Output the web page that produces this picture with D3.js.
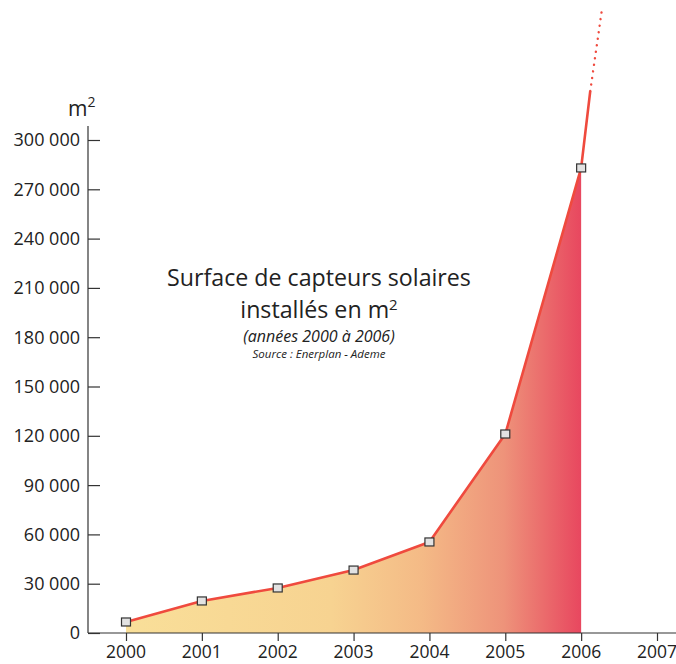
<!DOCTYPE html>
<html lang="fr">
<head>
  <meta charset="UTF-8">
  <title>Surface de capteurs solaires</title>
  <script src="https://d3js.org/d3.v7.min.js"></script>
  <style>
    body { margin: 0; background: #fff; }
    text { font-family: "Open Sans", "Noto Sans", sans-serif; fill: #222; }
    .axis line, .axis path { stroke: #333; stroke-width: 1.2px; }
  </style>
</head>
<body>
  <div id="chart"></div>
  <script>
    // values
    const years = [2000, 2001, 2002, 2003, 2004, 2005, 2006];
    const surface = [6700, 19500, 27400, 38300, 55400, 121100, 283000];
    const yearTicks = [2000, 2001, 2002, 2003, 2004, 2005, 2006, 2007];
    const valueTicks = [0, 30000, 60000, 90000, 120000, 150000, 180000, 210000, 240000, 270000, 300000];
    // projection beyond 2006 (solid part, then dotted part)
    const trendSolid = [[2006, 283000], [2006.12, 329800]];
    const trendDotted = [[2006.12, 329800], [2006.27, 378000]];

    const width = 676, height = 664;
    const svg = d3.select("#chart").append("svg")
      .attr("width", width).attr("height", height);

    const x = d3.scaleLinear().domain([2000, 2007]).range([126, 657]);
    const y = d3.scaleLinear().domain([0, 300000]).range([633, 140]);
    const fmt = d => d3.format(",")(d).replace(/,/g, " ");

    const grad = svg.append("defs").append("linearGradient")
      .attr("id", "fillGrad")
      .attr("gradientUnits", "userSpaceOnUse")
      .attr("x1", x(2000)).attr("x2", x(2006)).attr("y1", 0).attr("y2", 0);
    [[0, "#f9df99"], [0.45, "#f7d391"], [0.65, "#f4ba86"], [0.83, "#ee937a"], [1, "#e8475f"]]
      .forEach(s => grad.append("stop").attr("offset", s[0]).attr("stop-color", s[1]));

    const pts = years.map((yr, i) => [yr, surface[i]]);

    svg.append("path")
      .datum(pts)
      .attr("fill", "url(#fillGrad)")
      .attr("d", d3.area().x(d => x(d[0])).y0(y(0)).y1(d => y(d[1])));

    // y axis
    const yAxis = svg.append("g").attr("class", "axis")
      .attr("transform", "translate(88,0)")
      .call(d3.axisRight(y).tickValues(valueTicks).tickSize(12).tickFormat(""));
    yAxis.select(".domain").attr("d", `M0,${y(0)}V${y(300000) - 14}`);
    svg.append("g").selectAll("text").data(valueTicks).enter().append("text")
      .attr("x", 80).attr("y", d => y(d)).attr("dy", "0.36em")
      .attr("text-anchor", "end").attr("font-size", 18)
      .text(fmt);

    // x axis
    const xAxis = svg.append("g").attr("class", "axis")
      .attr("transform", `translate(0,${y(0)})`)
      .call(d3.axisBottom(x).tickValues(yearTicks).tickSize(8).tickFormat(""));
    xAxis.select(".domain").attr("d", `M88,0H676`);
    svg.append("g").selectAll("text").data(yearTicks).enter().append("text")
      .attr("x", d => x(d)).attr("y", 658)
      .attr("text-anchor", "middle").attr("font-size", 17.5)
      .text(d => d);

    svg.append("text").attr("x", 68).attr("y", 116).attr("font-size", 21)
      .text("m").append("tspan").attr("dy", -9).attr("font-size", 14).text("2");

    const line = d3.line().x(d => x(d[0])).y(d => y(d[1]));
    svg.append("path").datum(pts.concat(trendSolid.slice(1)))
      .attr("fill", "none").attr("stroke", "#ef4a3e").attr("stroke-width", 2.6)
      .attr("stroke-linejoin", "round").attr("d", line);
    svg.append("path").datum(trendDotted)
      .attr("fill", "none").attr("stroke", "#ef4a3e").attr("stroke-width", 2.4)
      .attr("stroke-linecap", "round").attr("stroke-dasharray", "0.1 6.5")
      .attr("d", line);

    svg.append("g").selectAll("rect").data(pts).enter().append("rect")
      .attr("x", d => x(d[0]) - 4.5).attr("y", d => y(d[1]) - 4)
      .attr("width", 9).attr("height", 8)
      .attr("fill", "#e2e2e2").attr("stroke", "#333").attr("stroke-width", 1.2);

    // title block
    const t = svg.append("g").attr("text-anchor", "middle");
    t.append("text").attr("x", 319).attr("y", 286).attr("font-size", 23.2)
      .text("Surface de capteurs solaires");
    const t2 = t.append("text").attr("x", 319).attr("y", 318).attr("font-size", 23.2);
    t2.append("tspan").text("installés en m");
    t2.append("tspan").attr("font-size", 15).attr("dy", -8).text("2");
    t.append("text").attr("x", 319).attr("y", 342).attr("font-size", 16)
      .attr("font-style", "italic").text("(années 2000 à 2006)");
    t.append("text").attr("x", 319).attr("y", 358).attr("font-size", 11.5)
      .attr("font-style", "italic").text("Source : Enerplan - Ademe");
  </script>
</body>
</html>
